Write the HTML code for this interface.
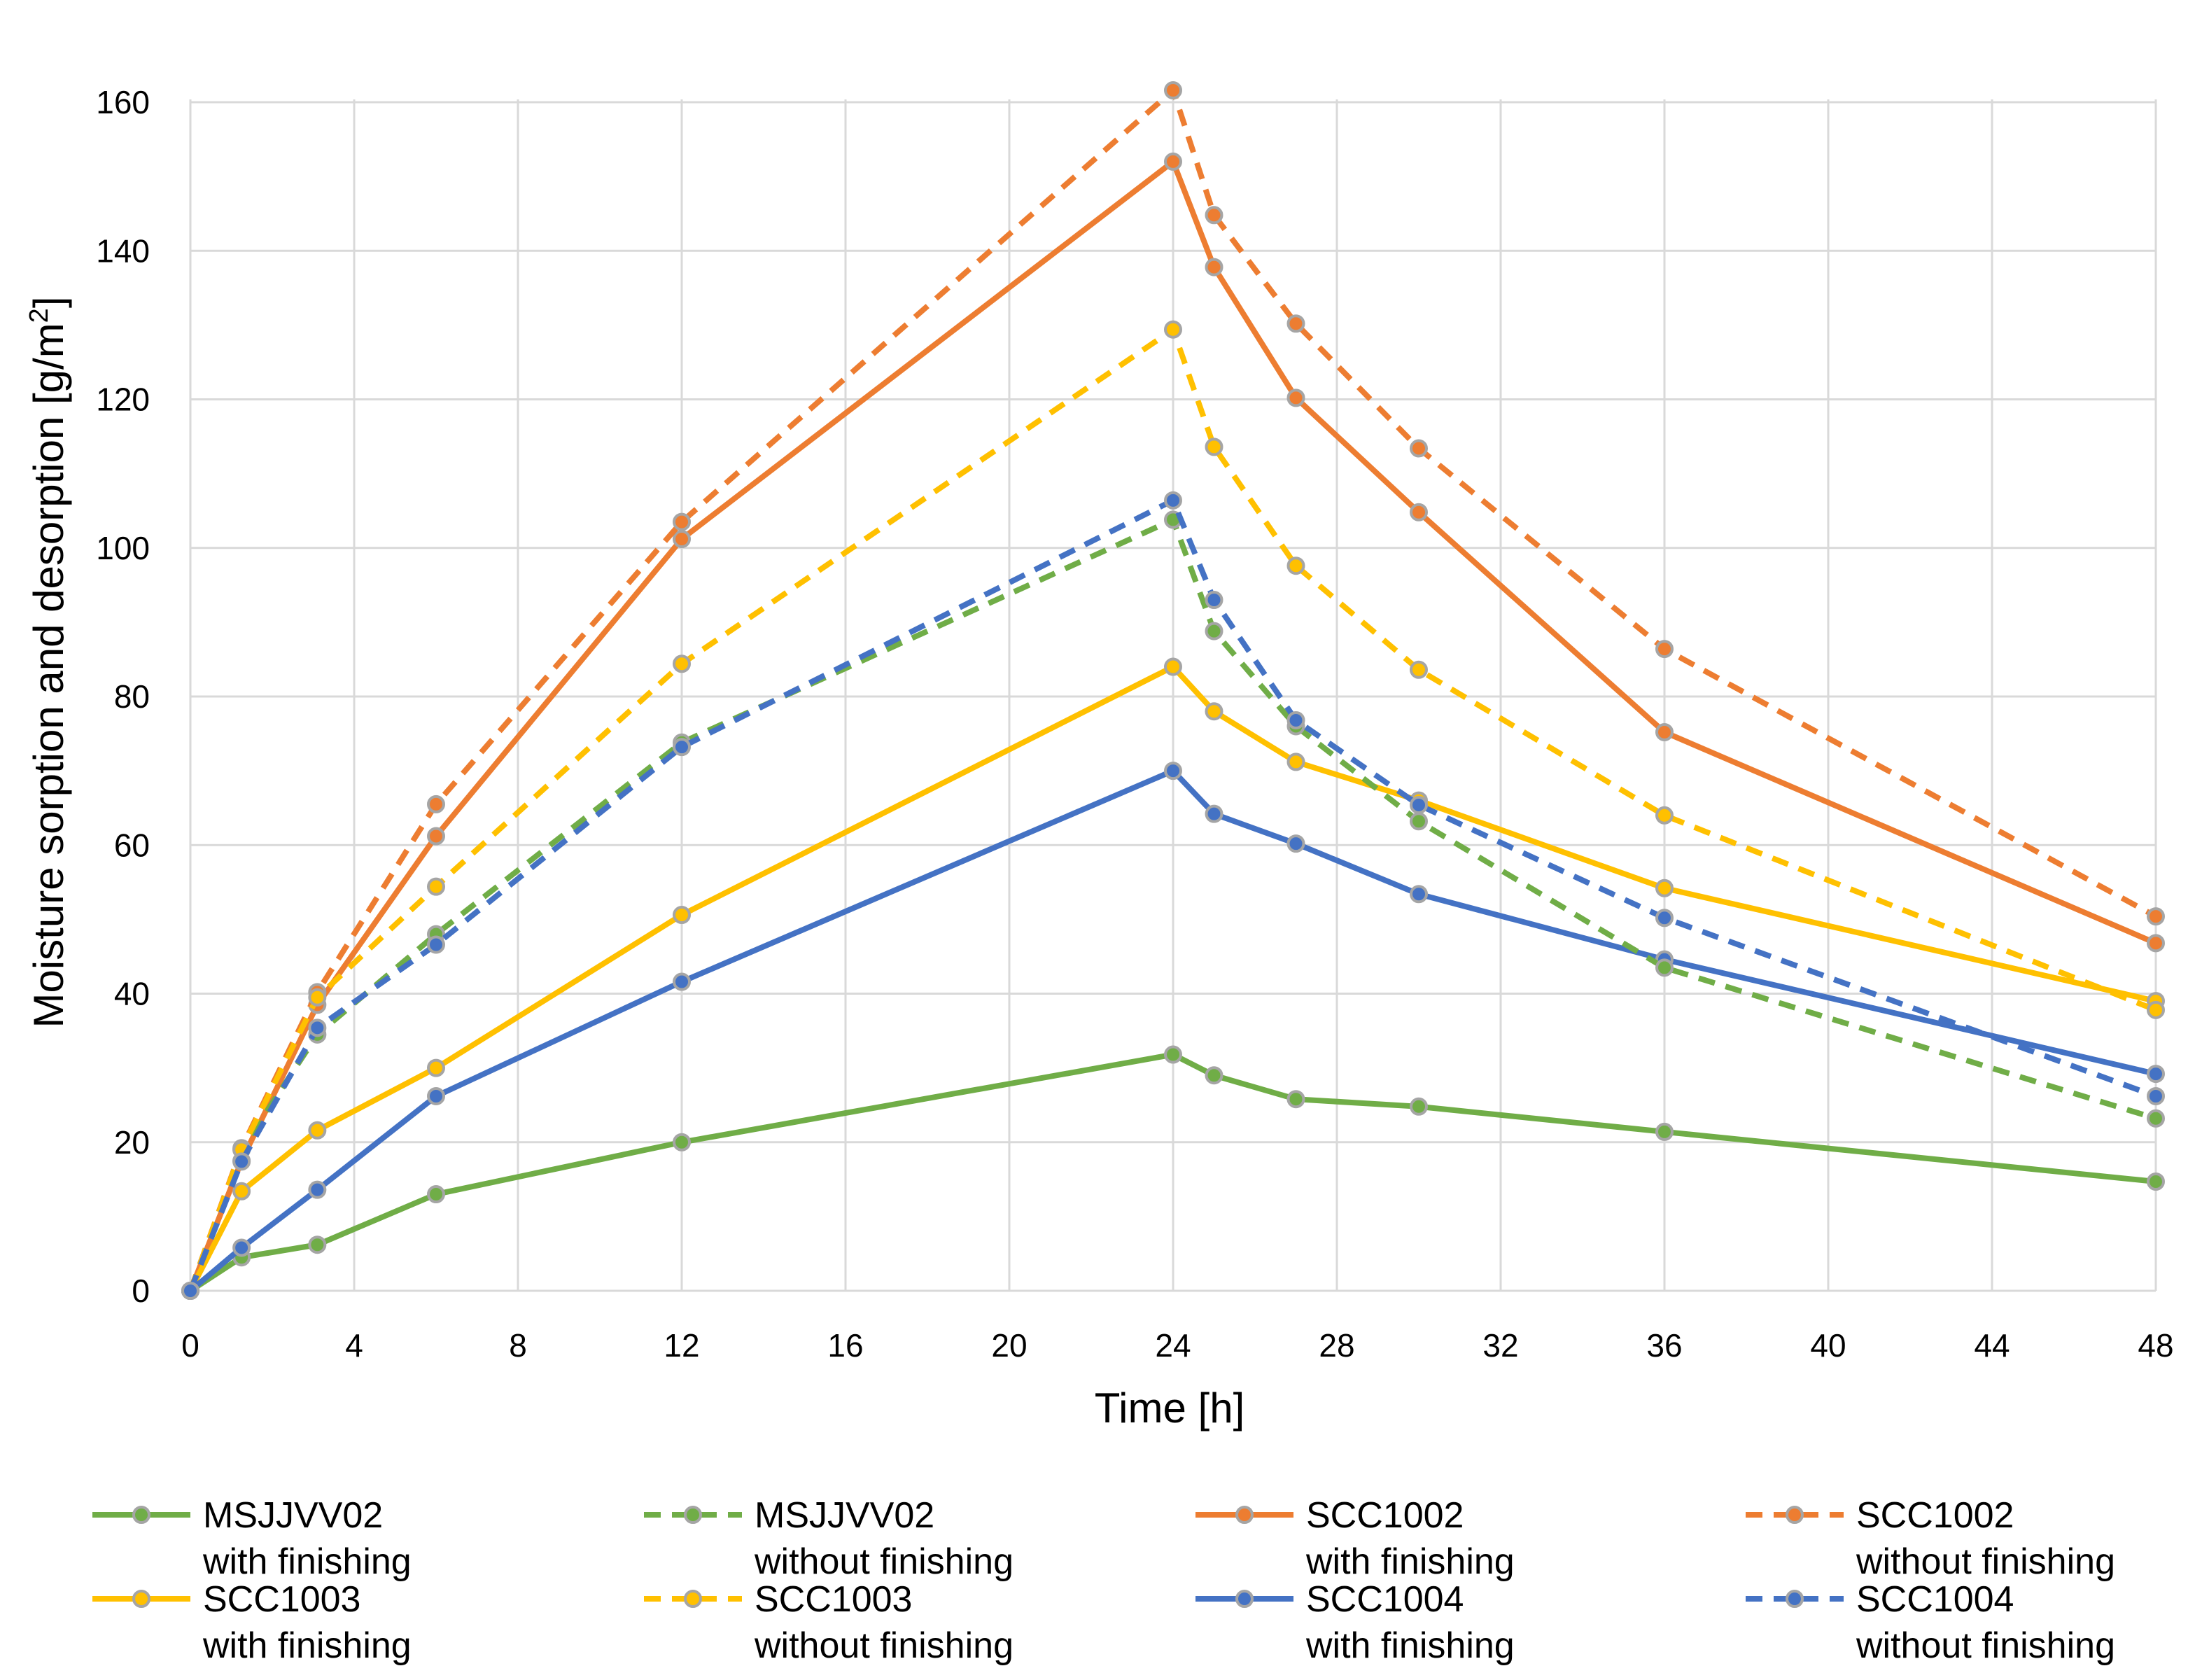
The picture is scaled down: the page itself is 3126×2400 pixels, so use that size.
<!DOCTYPE html>
<html><head><meta charset="utf-8"><style>
html,body{margin:0;padding:0;background:#fff}
svg{display:block;font-family:"Liberation Sans",sans-serif}
</style></head><body>
<svg id="chart" width="3126" height="2400" viewBox="0 0 3126 2400" xmlns="http://www.w3.org/2000/svg">
<g id="grid"></g>
<g id="axes"></g>
<g id="series"></g>
<g id="legend"></g>
<text x="1671" y="2032" font-size="60" text-anchor="middle" fill="#000">Time [h]</text>
<text transform="translate(90,946) rotate(-90)" font-size="60" text-anchor="middle" fill="#000">Moisture sorption and desorption [g/m<tspan font-size="38" dy="-22">2</tspan><tspan dy="22">]</tspan></text>
</svg>
<script>
const times = [0, 1.25, 3.1, 6, 12, 24, 25, 27, 30, 36, 48];
const xTicks = [0,4,8,12,16,20,24,28,32,36,40,44,48];
const yTicks = [0,20,40,60,80,100,120,140,160];
const msWith = [0, 4.5, 6.2, 13, 20, 31.8, 29, 25.8, 24.8, 21.4, 14.7];
const msWithout = [0, 19, 34.5, 48, 73.8, 103.8, 88.8, 76, 63.2, 43.5, 23.2];
const s2With = [0, 17.5, 38.5, 61.2, 101.2, 152, 137.8, 120.2, 104.8, 75.2, 46.8];
const s2Without = [0, 19.2, 40.2, 65.5, 103.5, 161.6, 144.8, 130.2, 113.4, 86.4, 50.4];
const s3With = [0, 13.4, 21.6, 30, 50.6, 84, 78, 71.2, 66, 54.2, 39];
const s3Without = [0, 19, 39.5, 54.4, 84.4, 129.4, 113.6, 97.6, 83.6, 64, 37.8];
const s4With = [0, 5.8, 13.6, 26.2, 41.6, 70, 64.2, 60.2, 53.4, 44.6, 29.2];
const s4Without = [0, 17.4, 35.4, 46.6, 73.2, 106.4, 93, 76.8, 65.4, 50.2, 26.2];
const seriesNames = ["MSJJVV02","MSJJVV02","SCC1002","SCC1002","SCC1003","SCC1003","SCC1004","SCC1004"];

const NS="http://www.w3.org/2000/svg";
const X0=272,X1=3080,Y0=1844,Y1=142;
const xs=t=>X0+(t/48)*(X1-X0);
const ys=v=>Y0-(v/160)*(Y0-146);
function mk(tag,parent){const e=document.createElementNS(NS,tag);parent.appendChild(e);return e;}
const grid=document.getElementById('grid'),axes=document.getElementById('axes'),sg=document.getElementById('series'),lg=document.getElementById('legend');
xTicks.forEach(t=>{
  const l=mk('line',grid);
  
  
  l.setAttribute('x1',xs(t));l.setAttribute('x2',xs(t));l.setAttribute('y1',Y1);l.setAttribute('y2',Y0);
  l.setAttribute('stroke','#d9d9d9');l.setAttribute('stroke-width','3');
  const tx=mk('text',axes);
  
  
  tx.setAttribute('x',xs(t));tx.setAttribute('y',1938);tx.setAttribute('font-size','46');tx.setAttribute('text-anchor','middle');
  tx.textContent=t;
});
yTicks.forEach(v=>{
  const l=mk('line',grid);
  
  
  l.setAttribute('x1',X0);l.setAttribute('x2',X1);l.setAttribute('y1',ys(v));l.setAttribute('y2',ys(v));
  l.setAttribute('stroke','#d9d9d9');l.setAttribute('stroke-width','3');
  const tx=mk('text',axes);
  
  
  tx.setAttribute('x',214);tx.setAttribute('y',ys(v)+16);tx.setAttribute('font-size','46');tx.setAttribute('text-anchor','end');
  tx.textContent=v;
});
const colors=["#70ad47","#70ad47","#ed7d31","#ed7d31","#ffc000","#ffc000","#4472c4","#4472c4"];
const data=[msWith,msWithout,s2With,s2Without,s3With,s3Without,s4With,s4Without];
const order=[0,2,4,6,1,3,5,7];
order.forEach(i=>{
  const g=mk('g',sg);
  
  
  const p=mk('polyline',g);
  
  
  p.setAttribute('points',data[i].map((v,k)=>xs(times[k])+','+ys(v)).join(' '));
  p.setAttribute('fill','none');p.setAttribute('stroke',colors[i]);p.setAttribute('stroke-width','8');
  if(i%2)p.setAttribute('stroke-dasharray','24 16');
  data[i].forEach((v,k)=>{
    const c=mk('circle',g);
    
    
    c.setAttribute('cx',xs(times[k]));c.setAttribute('cy',ys(v));c.setAttribute('r','11');
    c.setAttribute('fill',colors[i]);c.setAttribute('stroke','#a5a5a5');c.setAttribute('stroke-width','4');
  });
});
const colX=[132,920,1708,2494],rowY=[2164,2284];
for(let i=0;i<8;i++){
  const cx=colX[Math.floor(i/2)%2*2+(i%2)], ry=rowY[Math.floor(i/4)];
  const g=mk('g',lg);
  
  
  const l=mk('line',g);
  
  
  l.setAttribute('x1',cx);l.setAttribute('x2',cx+140);l.setAttribute('y1',ry);l.setAttribute('y2',ry);
  l.setAttribute('stroke',colors[i]);l.setAttribute('stroke-width','8');
  if(i%2)l.setAttribute('stroke-dasharray','24 16');
  const c=mk('circle',g);
  
  
  c.setAttribute('cx',cx+70);c.setAttribute('cy',ry);c.setAttribute('r','11');
  c.setAttribute('fill',colors[i]);c.setAttribute('stroke','#a5a5a5');c.setAttribute('stroke-width','4');
  const t1=mk('text',g);
  
  
  t1.setAttribute('x',cx+158);t1.setAttribute('y',ry+18);t1.setAttribute('font-size','52');
  t1.textContent=seriesNames[i];
  const t2=mk('text',g);
  
  
  t2.setAttribute('x',cx+158);t2.setAttribute('y',ry+84);t2.setAttribute('font-size','52');
  t2.textContent=i%2?'without finishing':'with finishing';
}
</script>
</body></html>
